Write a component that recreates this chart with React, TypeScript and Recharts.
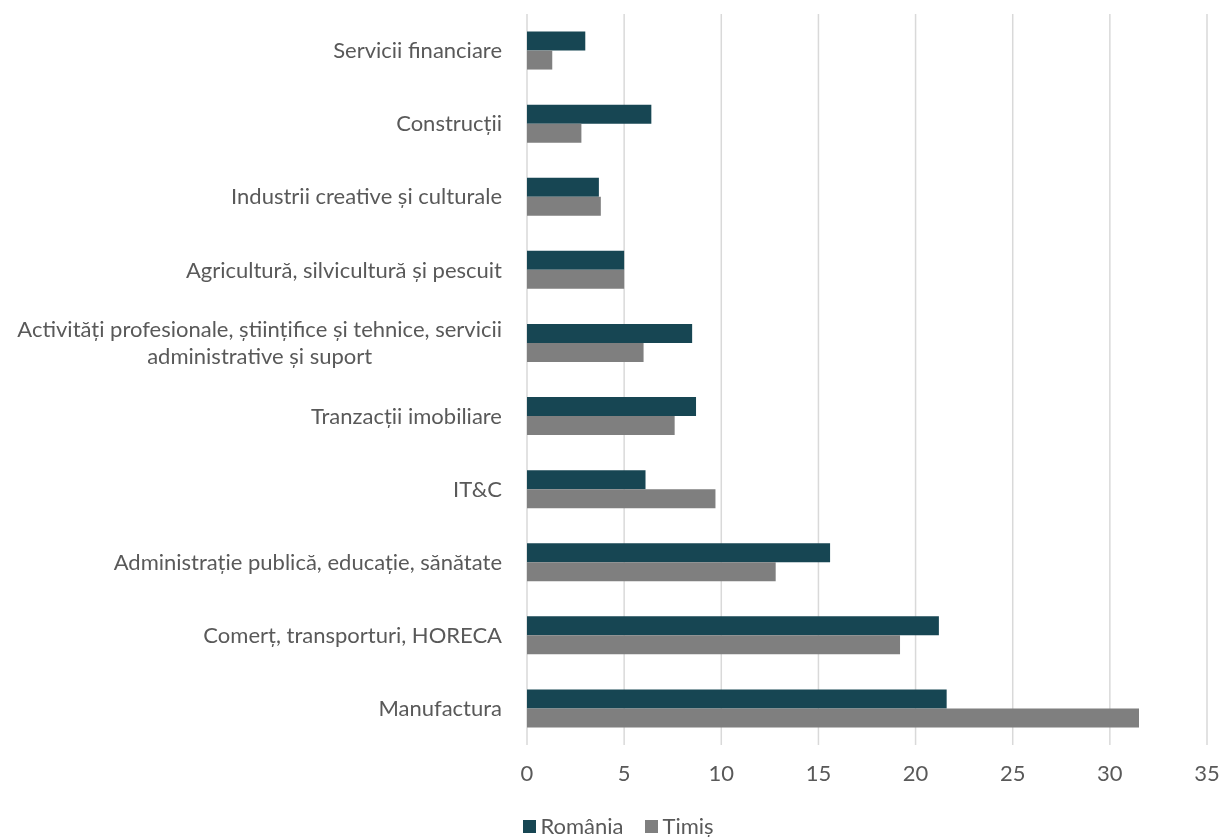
import React from "react"
import { BarChart, Bar, XAxis, YAxis, CartesianGrid, Legend } from "recharts"

const categories = [
  "Servicii financiare",
  "Construcții",
  "Industrii creative și culturale",
  "Agricultură, silvicultură și pescuit",
  "Activități profesionale, științifice și tehnice, servicii administrative și suport",
  "Tranzacții imobiliare",
  "IT&C",
  "Administrație publică, educație, sănătate",
  "Comerț, transporturi, HORECA",
  "Manufactura",
]
const romania = [3.0, 6.4, 3.7, 5.0, 8.5, 8.7, 6.1, 15.6, 21.2, 21.6]
const timis = [1.3, 2.8, 3.8, 5.0, 6.0, 7.6, 9.7, 12.8, 19.2, 31.5]
const xTicks = [0, 5, 10, 15, 20, 25, 30, 35]

const FONT = "Lato, 'Open Sans', sans-serif"
const FONT_SIZE = 22
const TEXT = "#595959"
const RO_COLOR = "#174653"
const TM_COLOR = "#7f7f7f"

const data = categories.map((name, i) => ({ name, romania: romania[i], timis: timis[i] }))

let ctx: CanvasRenderingContext2D | null = null
function measure(s: string) {
  if (!ctx) ctx = document.createElement("canvas").getContext("2d")
  if (!ctx) return s.length * 10
  ctx.font = `${FONT_SIZE}px Lato`
  return ctx.measureText(s).width
}

function wrap(text: string, maxWidth: number) {
  const words = text.split(" ")
  const lines: string[] = []
  let cur = ""
  for (const w of words) {
    const next = cur ? cur + " " + w : w
    if (cur && measure(next) > maxWidth) {
      lines.push(cur)
      cur = w
    } else cur = next
  }
  if (cur) lines.push(cur)
  return lines
}

function CategoryTick(props: any) {
  const { x, y, payload } = props
  const lines = wrap(String(payload.value), 500)
  const block = Math.max(...lines.map(measure))
  const cx = x - block / 2
  const lh = 27
  const y0 = y - ((lines.length - 1) * lh) / 2
  return (
    <g>
      {lines.map((l, i) => (
        <text key={i} x={cx} y={y0 + i * lh} dy="0.35em" textAnchor="middle" fill={TEXT}
          fontSize={FONT_SIZE} fontFamily={FONT}>
          {l}
        </text>
      ))}
    </g>
  )
}

function LegendBox() {
  const item = (color: string, label: string, gap: number) => (
    <span style={{ display: "inline-flex", alignItems: "center", marginRight: gap }}>
      <span style={{ width: 13, height: 13, background: color, display: "inline-block", marginRight: 4 }} />
      <span>{label}</span>
    </span>
  )
  return (
    <div style={{ display: "flex", justifyContent: "center", fontFamily: FONT, fontSize: FONT_SIZE,
      color: TEXT, height: 22, lineHeight: "22px", alignItems: "center", paddingLeft: 30 }}>
      {item(RO_COLOR, "România", 22)}
      {item(TM_COLOR, "Timiș", 0)}
    </div>
  )
}

export default function App() {
  return (
    <div style={{ position: "fixed", left: 0, top: 0 }}>
      <BarChart width={1221} height={837} data={data} layout="vertical"
        margin={{ top: 14, right: 14, left: 0, bottom: 0 }} barCategoryGap="24%" barGap={0}>
        <CartesianGrid horizontal={false} stroke="#d9d9d9" strokeWidth={1.5} />
        <XAxis type="number" domain={[0, 35]} ticks={xTicks} axisLine={false} tickLine={false}
          tickSize={0} tickMargin={20} height={70} interval={0}
          tick={{ fill: TEXT, fontSize: FONT_SIZE, fontFamily: FONT }} />
        <YAxis type="category" dataKey="name" width={527} axisLine={false} tickLine={false}
          tickSize={0} tickMargin={25} interval={0} tick={<CategoryTick />} />
        <Legend verticalAlign="bottom" content={<LegendBox />} height={22} />
        <Bar dataKey="romania" name="România" fill={RO_COLOR} isAnimationActive={false} />
        <Bar dataKey="timis" name="Timiș" fill={TM_COLOR} isAnimationActive={false} />
      </BarChart>
    </div>
  )
}
